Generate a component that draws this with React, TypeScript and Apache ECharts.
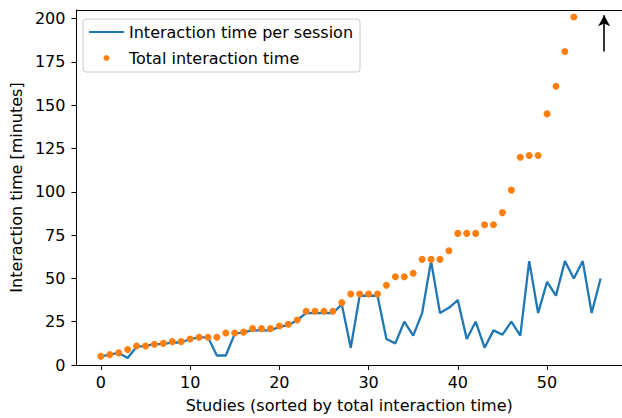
import React, { useEffect, useRef } from "react";
import * as echarts from "echarts";

// Per-session interaction time (blue line), study index 0..56
const perSession: number[] = [
  5, 6, 7, 4, 10.5, 11, 12, 12, 13, 13,
  15, 16, 16, 5.5, 5.5, 18, 19, 20, 20, 20,
  22, 23, 26, 30, 30, 30, 30, 35, 10, 40,
  40, 40, 15, 12.5, 25, 17, 30, 60, 30, 33,
  37.5, 15, 25, 10, 20, 17.5, 25, 17, 60, 30,
  48, 40, 60, 50, 60, 30, 50,
];

// Total interaction time (orange dots); studies 54-56 lie above the visible range
const totalTime: number[] = [
  5, 6, 7, 9, 11, 11, 12, 12.5, 13.5, 13.5,
  15, 16, 16, 16, 18.5, 18.5, 19, 21, 21, 21,
  22.5, 23.5, 26, 31, 31, 31, 31, 36, 41, 41,
  41, 41, 46, 51, 51, 53, 61, 61, 61, 66,
  76, 76, 76, 81, 81, 88, 101, 120, 121, 121,
  145, 161, 181, 201,
];

const xTicks: number[] = [0, 10, 20, 30, 40, 50];
const yTicks: number[] = [0, 25, 50, 75, 100, 125, 150, 175, 200];

// off-chart arrow annotation (data coordinates)
const arrowFrom: number[] = [56.4, 181];
const arrowTo: number[] = [56.4, 202];

const FONT = "DejaVu Sans";
const FS = 16;
const X_MIN = -2.74;
const X_MAX = 58.4;

export default function App() {
  const ref = useRef<HTMLDivElement>(null);
  useEffect(() => {
    if (!ref.current) return;
    const chart = echarts.init(ref.current, undefined, { renderer: "svg" });
    chart.setOption({
      animation: false,
      backgroundColor: "#fff",
      textStyle: { fontFamily: FONT },
      grid: {
        left: 75,
        top: 10,
        right: 0,
        bottom: 51,
      },
      legend: {
        orient: "vertical",
        left: 83,
        top: 19,
        padding: [5, 7, 6, 5],
        itemGap: 10,
        itemWidth: 35,
        itemHeight: 6,
        itemTextGap: 17,
        backgroundColor: "#fff",
        borderColor: "#cccccc",
        borderWidth: 1,
        borderRadius: 3,
        textStyle: { fontFamily: FONT, fontSize: FS, color: "#000" },
        data: [
          { name: "Interaction time per session", itemStyle: { opacity: 0 } },
          { name: "Total interaction time", icon: "circle" },
        ],
      },
      xAxis: [
        {
          type: "value",
          min: X_MIN,
          max: X_MAX,
          name: "Studies (sorted by total interaction time)",
          nameLocation: "middle",
          nameGap: 32,
          nameTextStyle: { fontFamily: FONT, fontSize: FS, color: "#000" },
          axisLine: { show: true, onZero: false, lineStyle: { color: "#000", width: 1 } },
          axisTick: {
            show: true,
            inside: false,
            length: 5,
            customValues: xTicks,
            lineStyle: { color: "#000", width: 1 },
          },
          axisLabel: {
            customValues: xTicks,
            margin: 9,
            fontFamily: FONT,
            fontSize: FS,
            color: "#000",
          },
          splitLine: { show: false },
        },
        {
          type: "value",
          position: "top",
          min: X_MIN,
          max: X_MAX,
          axisLine: { show: true, onZero: false, lineStyle: { color: "#000", width: 1 } },
          axisTick: { show: false },
          axisLabel: { show: false },
          splitLine: { show: false },
        },
      ],
      yAxis: {
        type: "value",
        min: 0,
        max: 205,
        name: "Interaction time [minutes]",
        nameLocation: "middle",
        nameGap: 50,
        nameTextStyle: { fontFamily: FONT, fontSize: FS, color: "#000" },
        axisLine: { show: true, onZero: false, lineStyle: { color: "#000", width: 1 } },
        axisTick: {
          show: true,
          inside: false,
          length: 5,
          customValues: yTicks,
          lineStyle: { color: "#000", width: 1 },
        },
        axisLabel: {
          customValues: yTicks,
          margin: 11,
          fontFamily: FONT,
          fontSize: FS,
          color: "#000",
        },
        splitLine: { show: false },
      },
      series: [
        {
          name: "Interaction time per session",
          type: "line",
          xAxisIndex: 0,
          data: perSession.map((v, i) => [i, v]),
          symbol: "none",
          showSymbol: false,
          lineStyle: { color: "#1f77b4", width: 2.3 },
          itemStyle: { color: "#1f77b4" },
          z: 2,
          markLine: {
            silent: true,
            symbol: ["none", "arrow"],
            symbolSize: [9, 11],
            label: { show: false },
            lineStyle: { color: "#000", width: 1.6, type: "solid" },
            data: [[{ coord: arrowFrom }, { coord: arrowTo }]],
          },
        },
        {
          name: "Total interaction time",
          type: "scatter",
          xAxisIndex: 0,
          data: totalTime.map((v, i) => [i, v]),
          symbol: "circle",
          symbolSize: 7,
          itemStyle: { color: "#ff7f0e", opacity: 1 },
          z: 3,
        },
      ],
    });
    return () => chart.dispose();
  }, []);
  return <div ref={ref} style={{ width: 622, height: 418, position: "absolute", left: 0, top: 0 }} />;
}
